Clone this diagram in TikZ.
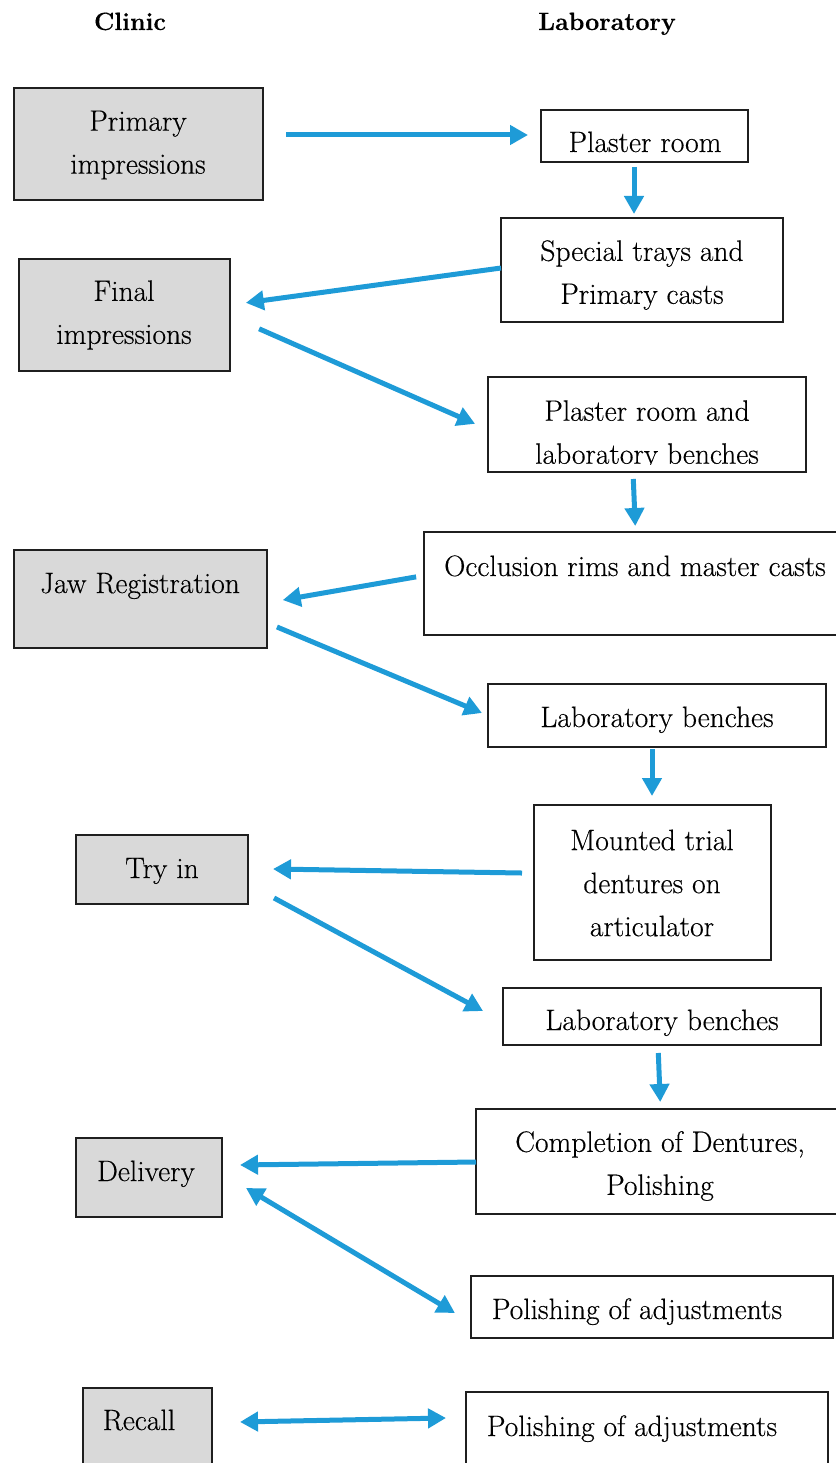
\documentclass[tikz,border=0pt]{standalone}
\usepackage{fontspec}
\setmainfont{Latin Modern Roman}[FakeBold=0.35]
\usetikzlibrary{arrows.meta}
\definecolor{ablue}{HTML}{1E9BD7}
\definecolor{gfill}{HTML}{D9D9D9}
\definecolor{bline}{HTML}{1F1F1F}
\begin{document}
\begin{tikzpicture}[x=1pt,y=-1pt,
 box/.style={draw=bline,line width=1.2pt,inner sep=0pt,outer sep=0pt},
 gbox/.style={box,fill=gfill},
 wbox/.style={box,fill=white},
 txt/.style={font=\fontsize{29.5}{43}\selectfont,align=center,inner sep=0pt},
 one/.style={txt,text height=20pt,text depth=6pt},
 head/.style={font=\bfseries\fontsize{25}{30}\selectfont,inner sep=0pt,text height=17pt,text depth=5pt},
 arr/.style={draw=ablue,line width=5pt,-{Triangle[length=18pt,width=19pt]}},
 darr/.style={draw=ablue,line width=5pt,{Triangle[length=18pt,width=19pt]}-{Triangle[length=18pt,width=19pt]}}]
\useasboundingbox (0,0) rectangle (835,1463);

% headings
\node[head] (hc) at (130,24) {Clinic};
\node[head] (hl) at (607,24) {Laboratory};

% clinic boxes
\node[gbox,minimum width=249pt,minimum height=112pt] (pi) at (138.5,144) {};
\node[gbox,minimum width=211pt,minimum height=112pt] (fi) at (124.5,315) {};
\node[gbox,minimum width=253pt,minimum height=98pt] (jr) at (140.5,599) {};
\node[gbox,minimum width=172pt,minimum height=69pt] (ti) at (162,869.5) {};
\node[gbox,minimum width=146pt,minimum height=79pt] (de) at (149,1177.5) {};
\node[gbox,minimum width=129pt,minimum height=87pt] (rc) at (147.5,1431.5) {};

% laboratory boxes
\node[wbox,minimum width=207pt,minimum height=52pt] (pr) at (644.5,136) {};
\node[wbox,minimum width=282pt,minimum height=104pt] (st) at (642,270) {};
\node[wbox,minimum width=318pt,minimum height=95pt] (pl) at (647,424.5) {};
\node[wbox,minimum width=421pt,minimum height=103pt] (oc) at (634.5,583.5) {};
\node[wbox,minimum width=338pt,minimum height=63pt] (lb1) at (657,715.5) {};
\node[wbox,minimum width=237pt,minimum height=155pt] (mt) at (652.5,882.5) {};
\node[wbox,minimum width=318pt,minimum height=57pt] (lb2) at (662,1016.5) {};
\node[wbox,minimum width=369pt,minimum height=105pt] (cp) at (660.5,1161.5) {};
\node[wbox,minimum width=362pt,minimum height=62pt] (pa1) at (652,1307) {};
\node[wbox,minimum width=362pt,minimum height=83pt] (pa2) at (647,1433.5) {};

% texts
\node[txt] (pit) at (138,145) {Primary\\impressions};
\node[txt] (fit) at (124,315) {Final\\impressions};
\node[one] (jrt) at (140,586) {Jaw Registration};
\node[one] (tit) at (162,871) {Try in};
\node[one] (det) at (146,1174) {Delivery};
\node[one] (rct) at (139,1423) {Recall};
\node[one] (prt) at (645,145) {Plaster room};
\node[txt] (stt) at (642,275) {Special trays and\\Primary casts};
\begin{scope}
\clip (pl.north west) rectangle ([yshift=7.5pt]pl.south east);
\node[txt] (plt) at (647,435) {Plaster room and\\laboratory benches};
\end{scope}
\node[one] (oct) at (635,569) {Occlusion rims and master casts};
\node[one] (lb1t) at (657,720) {Laboratory benches};
\node[txt] (mtt) at (652,883) {Mounted trial\\dentures on\\articulator};
\node[one] (lb2t) at (662,1023) {Laboratory benches};
\node[txt] (cpt) at (660,1166) {Completion of Dentures,\\Polishing};
\node[one] (pa1t) at (637,1312) {Polishing of adjustments};
\node[one] (pa2t) at (632,1429) {Polishing of adjustments};

% arrows
\draw[arr,shorten <=23pt,shorten >=13pt] ([yshift=9pt]pi.east) -- ([yshift=1pt]pr.west);
\draw[arr,shorten <=5pt,shorten >=4pt] ([xshift=-10.5pt]pr.south) -- ([xshift=-8pt]st.north);
\draw[arr,shorten <=0pt,shorten >=16pt] ([yshift=2pt]st.west) -- ([yshift=10pt]fi.east);
\draw[arr,shorten <=31.8pt,shorten >=14.1pt] ([yshift=-1pt]fi.east) -- ([yshift=-5pt]pl.west);
\draw[arr,shorten <=7pt,shorten >=6pt] ([xshift=-14pt]pl.south) -- ([xshift=1pt]oc.north);
\draw[arr,shorten <=8pt,shorten >=16pt] ([yshift=8pt]oc.west) -- ([yshift=-3.8pt]jr.east);
\draw[arr,shorten <=10.8pt,shorten >=6.5pt] ([yshift=-23.8pt]jr.east) -- (lb1.west);
\draw[arr,shorten <=2pt,shorten >=9pt] ([xshift=-5pt]lb1.south) -- ([xshift=-0.5pt]mt.north);
\draw[arr,shorten <=12pt,shorten >=25pt] ([yshift=9.3pt]mt.west) -- ([yshift=0.9pt]ti.east);
\draw[arr,shorten <=29.6pt,shorten >=22.7pt] ([yshift=-14.4pt]ti.east) -- ([yshift=-5.3pt]lb2.west);
\draw[arr,shorten <=8pt,shorten >=7pt] ([xshift=-4pt]lb2.south) -- (cp.north);
\draw[arr,shorten <=0pt,shorten >=18pt] ([yshift=-0.5pt]cp.west) -- ([yshift=12.3pt]de.east);
\draw[darr,shorten <=28pt,shorten >=18.7pt] ([yshift=3.9pt]de.east) -- ([yshift=-15.6pt]pa1.west);
\draw[darr,shorten <=28pt,shorten >=20pt] ([yshift=9pt]rc.east) -- ([yshift=15.9pt]pa2.west);
\end{tikzpicture}
\end{document}
